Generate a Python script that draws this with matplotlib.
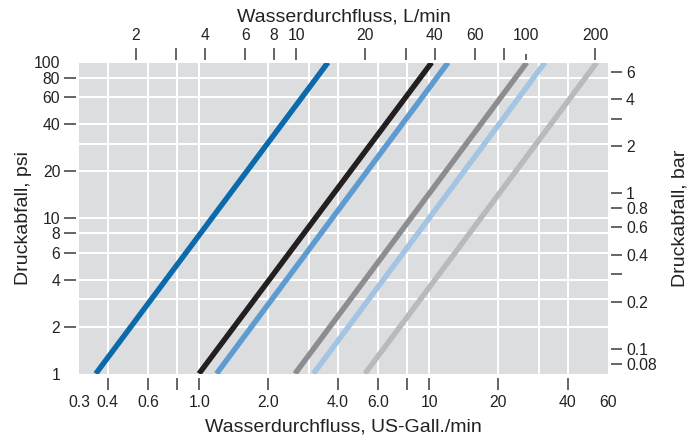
import matplotlib
matplotlib.use("Agg")
import matplotlib.pyplot as plt
from matplotlib.ticker import FixedLocator, FixedFormatter, NullFormatter

plt.rcParams['font.family'] = ['Liberation Sans', 'DejaVu Sans']

# Data: flow (US gal/min) at 1 psi and at 100 psi for each curve
series_colors = ["#0a6aab", "#231f20", "#5e9bd1", "#8d8d8f", "#a4c4e4", "#b9babc"]
flow_at_1psi = [0.355, 0.998, 1.19, 2.61, 3.14, 5.26]
flow_at_100psi = [3.63, 10.26, 12.09, 26.6, 31.9, 53.6]
psi_ends = [1, 100]

# Axis ticks
x_ticks = [0.3, 0.4, 0.6, 0.8, 1.0, 2.0, 4.0, 6.0, 8.0, 10, 20, 40, 60]
x_labels = ["0.3", "0.4", "0.6", "", "1.0", "2.0", "4.0", "6.0", "", "10", "20", "40", "60"]
x_grid = [0.4, 0.6, 0.8, 1, 2, 3, 4, 6, 8, 10, 20, 30, 40]
y_ticks = [1, 2, 4, 6, 8, 10, 20, 40, 60, 80, 100]
y_labels = ["1", "2", "4", "6", "8", "10", "20", "40", "60", "80", "100"]
y_grid = [2, 3, 4, 6, 8, 10, 20, 30, 40, 60, 80]
top_ticks = [2, 3, 4, 6, 8, 10, 20, 30, 40, 60, 80, 200]
top_labels = ["2", "", "4", "6", "8", "10", "20", "", "40", "60", "", "200"]
top_short_ticks = [100]
top_short_labels = ["100"]
right_ticks = [0.08, 0.1, 0.2, 0.3, 0.4, 0.6, 0.8, 1, 2, 3, 4, 6]
right_labels = ["0.08", "0.1", "0.2", "", "0.4", "0.6", "0.8", "1", "2", "", "4", "6"]

GAL_TO_L = 3.785
PSI_TO_BAR = 0.0689476

fig = plt.figure(figsize=(6.99, 4.37), dpi=100)
ax = fig.add_axes([79/699, 1-373.7/437, (608-79)/699, (373.7-62.5)/437])
ax.set_facecolor("#dcdddf")
ax.set_xscale("log")
ax.set_yscale("log")
ax.set_xlim(0.3, 60)
ax.set_ylim(1, 100)

for c, a, b in zip(series_colors, flow_at_1psi, flow_at_100psi):
    ax.plot([a, b], psi_ends, color=c, lw=3.9, solid_capstyle="butt", zorder=3)

for s in ax.spines.values():
    s.set_visible(False)
ax.spines['bottom'].set_position(('outward', 3))
ax.spines['left'].set_position(('outward', 2))

tick_color = "#3a3a3a"
label_color = "#222222"
fs = 11.3
lfs = 14

ax.xaxis.remove_overlapping_locs = False
ax.yaxis.remove_overlapping_locs = False
ax.xaxis.set_major_locator(FixedLocator(x_ticks))
ax.xaxis.set_major_formatter(FixedFormatter(x_labels))
ax.xaxis.set_minor_locator(FixedLocator(x_grid))
ax.xaxis.set_minor_formatter(NullFormatter())
ax.yaxis.set_major_locator(FixedLocator(y_ticks))
ax.yaxis.set_major_formatter(FixedFormatter(y_labels))
ax.yaxis.set_minor_locator(FixedLocator(y_grid))
ax.yaxis.set_minor_formatter(NullFormatter())

ax.tick_params(which="major", length=8.5, width=1.1, color=tick_color,
               labelsize=fs, labelcolor=label_color, pad=3)
ax.tick_params(which="minor", length=0)
ax.tick_params(axis="x", which="major", pad=4)
ax.grid(False, which="major")
ax.grid(True, which="minor", color="white", lw=1.4)
ax.set_axisbelow(True)

fig.canvas.draw()
for t in ax.xaxis.get_major_ticks():
    if t.get_loc() in (0.3, 60):
        t.tick1line.set_visible(False)
for t in ax.yaxis.get_major_ticks():
    if t.get_loc() in (1, 100):
        t.tick1line.set_visible(False)

ax.set_xlabel("Wasserdurchfluss, US-Gall./min", fontsize=lfs, color=label_color, labelpad=6)
ax.set_ylabel("Druckabfall, psi", fontsize=lfs, color=label_color, labelpad=1)

top = ax.secondary_xaxis("top", functions=(lambda x: x*GAL_TO_L, lambda x: x/GAL_TO_L))
top.xaxis.remove_overlapping_locs = False
top.xaxis.set_major_locator(FixedLocator(top_ticks))
top.xaxis.set_major_formatter(FixedFormatter(top_labels))
top.xaxis.set_minor_locator(FixedLocator(top_short_ticks))
top.xaxis.set_minor_formatter(FixedFormatter(top_short_labels))
for s in top.spines.values():
    s.set_visible(False)
top.spines['top'].set_position(('outward', 2))
top.tick_params(which="major", length=9, width=1.1, color=tick_color,
                labelsize=fs, labelcolor=label_color, pad=3)
top.tick_params(which="minor", length=4, width=1.1, color=tick_color,
                labelsize=fs, labelcolor=label_color, pad=8)
top.set_xlabel("Wasserdurchfluss, L/min", fontsize=lfs, color=label_color, labelpad=5)

right = ax.secondary_yaxis("right", functions=(lambda y: y*PSI_TO_BAR, lambda y: y/PSI_TO_BAR))
right.yaxis.set_major_locator(FixedLocator(right_ticks))
right.yaxis.set_major_formatter(FixedFormatter(right_labels))
right.yaxis.set_minor_locator(FixedLocator([]))
for s in right.spines.values():
    s.set_visible(False)
right.spines['right'].set_position(('outward', 2))
right.tick_params(which="major", length=8, width=1.1, color=tick_color,
                  labelsize=fs, labelcolor=label_color, pad=3)
right.set_ylabel("Druckabfall, bar", fontsize=lfs, color=label_color, labelpad=11)

fig.savefig("out.png", dpi=100)
